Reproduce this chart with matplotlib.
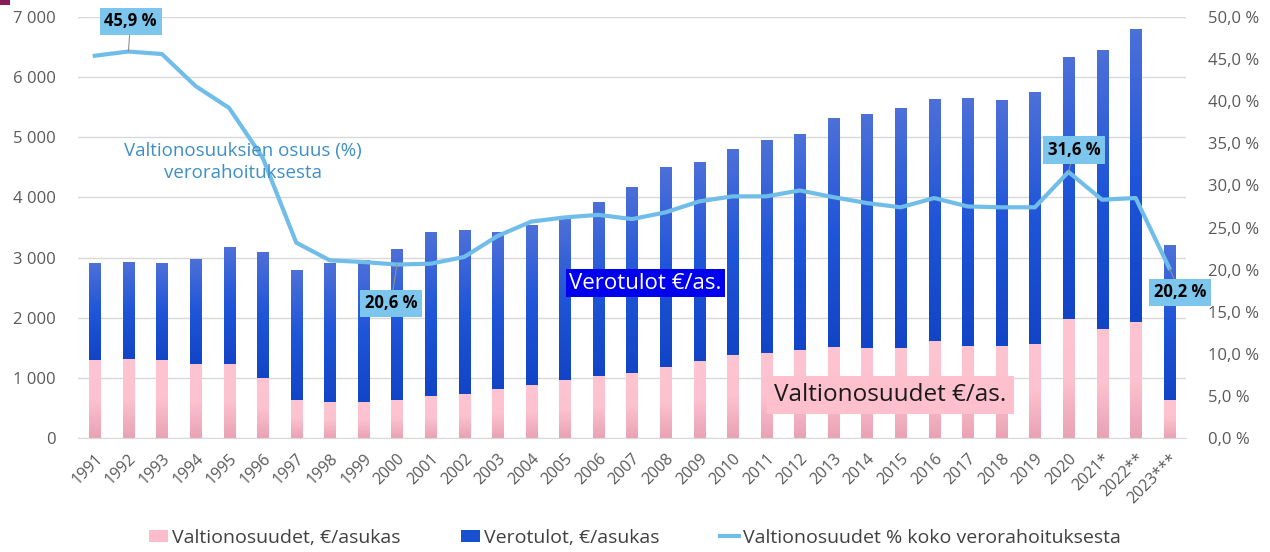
import matplotlib
matplotlib.use("Agg")
import matplotlib.pyplot as plt
import numpy as np
from matplotlib.colors import LinearSegmentedColormap
from matplotlib.patches import Patch, Rectangle
from matplotlib.lines import Line2D
from matplotlib.ticker import FuncFormatter, MultipleLocator

years = ['1991', '1992', '1993', '1994', '1995', '1996', '1997', '1998', '1999', '2000',
         '2001', '2002', '2003', '2004', '2005', '2006', '2007', '2008', '2009', '2010',
         '2011', '2012', '2013', '2014', '2015', '2016', '2017', '2018', '2019', '2020',
         '2021*', '2022**', '2023***']
valtionosuudet = [1300, 1320, 1300, 1230, 1230, 1000, 640, 600, 600, 640,
                  695, 735, 810, 880, 960, 1035, 1075, 1185, 1285, 1375,
                  1415, 1470, 1505, 1490, 1490, 1605, 1530, 1530, 1565, 1975,
                  1810, 1925, 635]
verotulot = [1600, 1610, 1600, 1730, 1940, 2080, 2150, 2310, 2355, 2505,
             2720, 2715, 2600, 2645, 2680, 2890, 3090, 3310, 3295, 3415,
             3525, 3585, 3795, 3890, 3980, 4015, 4110, 4075, 4175, 4350,
             4625, 4865, 2570]
osuus = [45.4, 45.9, 45.6, 41.8, 39.2, 33.3, 23.2, 21.1, 20.9, 20.6,
         20.7, 21.5, 24.0, 25.7, 26.2, 26.5, 26.0, 26.8, 28.1, 28.7,
         28.7, 29.4, 28.6, 27.9, 27.4, 28.5, 27.5, 27.4, 27.4, 31.6,
         28.3, 28.5, 20.2]
labelled = {'1992': '45,9 %', '2000': '20,6 %', '2020': '31,6 %', '2023***': '20,2 %'}

grey = '#595959'
base_font = 'Open Sans'
fig = plt.figure(figsize=(12.7, 5.52), dpi=100)
ax = fig.add_axes([78/1270, 1-438/552, (1186-78)/1270, (438-17)/552])
ax2 = ax.twinx()
ax.set_zorder(1)
ax2.set_zorder(2)
ax2.patch.set_visible(False)

x = np.arange(len(years))
w = 0.33
b1 = ax.bar(x, valtionosuudet, w, color='#fcbfcc', zorder=2)
b2 = ax.bar(x, verotulot, w, bottom=valtionosuudet, color='#1a4fd0', zorder=2)

pink_cmap = LinearSegmentedColormap.from_list('p', ['#e9a2b4', '#fdc2cf', '#ffc4d1'])
blue_cmap = LinearSegmentedColormap.from_list('b', ['#1244c6', '#1f55d8', '#4d70d8'])
grad = np.linspace(0, 1, 100).reshape(-1, 1)
for bars, cm in ((b1, pink_cmap), (b2, blue_cmap)):
    for p in bars:
        x0, y0 = p.get_x(), p.get_y()
        pw, ph = p.get_width(), p.get_height()
        p.set_visible(False)
        ax.imshow(grad, cmap=cm, origin='lower', aspect='auto',
                  extent=[x0, x0 + pw, y0, y0 + ph], zorder=2)

ax.set_xlim(-0.5, len(years) - 0.5)
ax.set_ylim(0, 7000)
ax.yaxis.set_major_locator(MultipleLocator(1000))
ax.yaxis.set_major_formatter(FuncFormatter(lambda v, p: f"{int(v):,}".replace(',', ' ')))
ax.grid(axis='y', color='#d9d9d9', linewidth=1, zorder=0)
ax.set_axisbelow(True)
for s in ['top', 'right', 'left']:
    ax.spines[s].set_visible(False)
    ax2.spines[s].set_visible(False)
ax.spines['bottom'].set_color('#d9d9d9')
ax2.spines['bottom'].set_visible(False)
ax.tick_params(axis='y', length=0, labelsize=12, labelcolor=grey, pad=16)
ax.tick_params(axis='x', length=0, labelsize=11.5, labelcolor=grey, pad=9)
ax.set_xticks(x)
ax.set_xticklabels(years, rotation=45, ha='right', rotation_mode='anchor')
for lab in ax.get_yticklabels() + ax.get_xticklabels():
    lab.set_family(base_font)

line_col = '#70bde9'
ax2.plot(x, osuus, color=line_col, linewidth=3, solid_joinstyle='round', zorder=3)
ax2.set_ylim(0, 50)
ax2.yaxis.set_major_locator(MultipleLocator(5))
ax2.yaxis.set_major_formatter(FuncFormatter(lambda v, p: f"{v:.1f}".replace('.', ',') + ' %'))
ax2.tick_params(axis='y', length=0, labelsize=12, labelcolor=grey, pad=16)
for lab in ax2.get_yticklabels():
    lab.set_family(base_font)

offsets = {'1992': (0.07, 3.6), '2000': (-0.18, -4.6), '2020': (0.17, 2.6), '2023***': (0.33, -2.9)}
for yr, txt in labelled.items():
    i = years.index(yr)
    dx, dy = offsets[yr]
    ax2.annotate(txt, xy=(x[i], osuus[i]), xytext=(x[i] + dx, osuus[i] + dy),
                 ha='center', va='center', fontsize=12, fontweight='bold', color='black',
                 family=base_font,
                 bbox=dict(boxstyle='square,pad=0.28', fc='#7cc6ee', ec='none'),
                 arrowprops=dict(arrowstyle='-', color='#909090', lw=0.8, shrinkA=0, shrinkB=0),
                 zorder=5)

ax2.text(4.4, 32.8, 'Valtionosuuksien osuus (%)\nverorahoituksesta', ha='center', va='center',
         fontsize=13.5, color='#3d8fc7', family=base_font, linespacing=1.25, zorder=5)
ax2.text(16.4, 18.4, 'Verotulot €/as.', ha='center', va='center', fontsize=16,
         color='white', family=base_font,
         bbox=dict(boxstyle='square,pad=0.15', fc='#0000ee', ec='none'), zorder=5)
ax2.text(23.7, 5.1, 'Valtionosuudet €/as.', ha='center', va='center', fontsize=17.5,
         color='#1a1a1a', family=base_font,
         bbox=dict(boxstyle='square,pad=0.3', fc='#fdc0cc', ec='none'), zorder=5)

handles = [Patch(facecolor='#fbbccb', edgecolor='none'),
           Patch(facecolor='#1a4fd0', edgecolor='none'),
           Line2D([0], [0], color=line_col, linewidth=3)]
labels = ['Valtionosuudet, €/asukas', 'Verotulot, €/asukas', 'Valtionosuudet % koko verorahoituksesta']
leg = fig.legend(handles, labels, loc='center', bbox_to_anchor=(0.5, 1 - 538/552), ncol=3,
                 frameon=False, handlelength=1.0, handleheight=0.6, handletextpad=0.2,
                 columnspacing=3.1, prop={'family': base_font, 'size': 14})
for t in leg.get_texts():
    t.set_color('#404040')

fig.patches.append(Rectangle((0, 1 - 5/552), 10/1270, 5/552, transform=fig.transFigure,
                             fc='#8b1a5a', ec='none'))

fig.savefig('out.png', dpi=100)
